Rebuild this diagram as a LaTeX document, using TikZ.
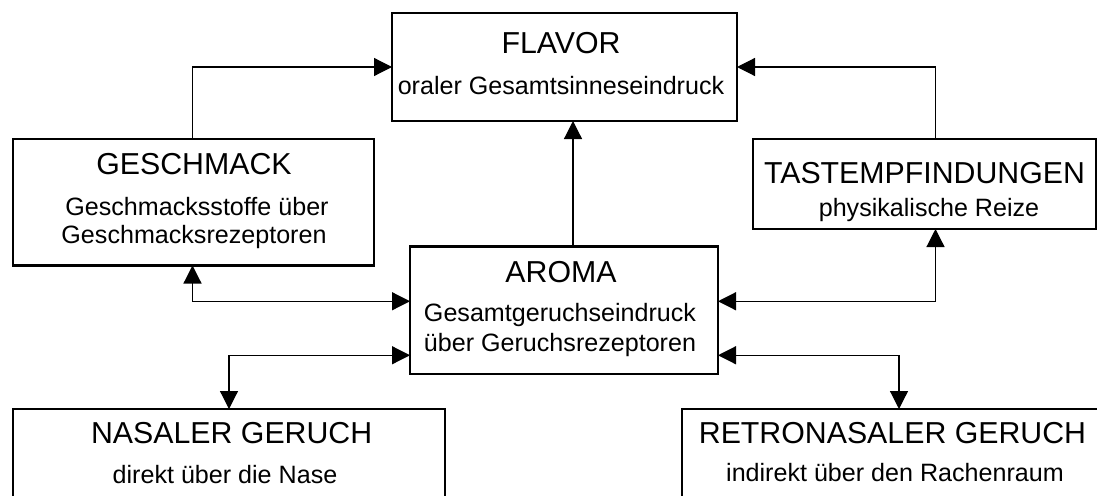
\documentclass[tikz,border=0pt]{standalone}
\usepackage{fontspec}
\setmainfont{Liberation Sans}
\usetikzlibrary{arrows.meta}
\begin{document}
\begin{tikzpicture}[x=1pt,y=-1pt,
  box/.style={draw, line width=2.7pt, inner sep=0pt, outer sep=0pt},
  ttl/.style={anchor=base, inner sep=0pt, font=\fontsize{30.3}{36}\selectfont},
  sub/.style={anchor=base, inner sep=0pt, font=\fontsize{25.1}{30}\selectfont},
  tip/.tip={Triangle[length=18pt,width=18pt]},
  arr/.style={line width=1.2pt, -tip},
  biarr/.style={line width=1.2pt, tip-tip}]
\clip (0,0) rectangle (1097,495);
\fill[white] (0,0) rectangle (1097,495);
% boxes
\node[box, minimum width=345pt, minimum height=108pt] (flavor) at (564.5,67) {};
\node[box, minimum width=361pt, minimum height=126.5pt] (gesch) at (193.5,202.25) {};
\node[box, minimum width=343pt, minimum height=90pt] (tast) at (924.5,184) {};
\node[box, minimum width=308pt, minimum height=127.5pt] (aroma) at (564,310.25) {};
\node[box, minimum width=432pt, minimum height=131pt] (nasal) at (229,474.5) {};
\node[box, minimum width=434pt, minimum height=131pt] (retro) at (899,474.5) {};
% texts
\node[ttl] (flavorT) at (561,53.3) {FLAVOR};
\node[sub] (flavorS) at (561,94.3) {oraler Gesamtsinneseindruck};
\node[ttl] (geschT) at (194,174) {GESCHMACK};
\node[sub] (geschS1) at (197,215) {Geschmacksstoffe über};
\node[sub] (geschS2) at (194,243.3) {Geschmacksrezeptoren};
\node[ttl] (tastT) at (924.5,183.3) {TASTEMPFINDUNGEN};
\node[sub] (tastS) at (929,216) {physikalische Reize};
\node[ttl] (aromaT) at (561,282.7) {AROMA};
\node[sub] (aromaS1) at (560,321.7) {Gesamtgeruchseindruck};
\node[sub] (aromaS2) at (560,351) {über Geruchsrezeptoren};
\node[ttl] (nasalT) at (231.7,443.3) {NASALER GERUCH};
\node[sub] (nasalS) at (225,483.3) {direkt über die Nase};
\node[ttl] (retroT) at (892.5,443.3) {RETRONASALER GERUCH};
\node[sub] (retroS) at (895,481.7) {indirekt über den Rachenraum};
% connectors
\draw[arr] ([xshift=-1pt]gesch.north) |- (flavor.west);
\draw[arr] ([xshift=11pt]tast.north) |- (flavor.east);
\draw[arr] ([xshift=9pt]aroma.north) -- ([xshift=9pt]aroma.north |- flavor.south);
\draw[biarr] ([xshift=-1pt]gesch.south) |- ([yshift=9pt]aroma.west);
\draw[biarr] ([xshift=11pt]tast.south) |- ([yshift=9pt]aroma.east);
\draw[biarr] ([yshift=-45pt]aroma.west) -| (nasal.north);
\draw[biarr] ([yshift=-45pt]aroma.east) -| (retro.north);
\end{tikzpicture}
\end{document}
